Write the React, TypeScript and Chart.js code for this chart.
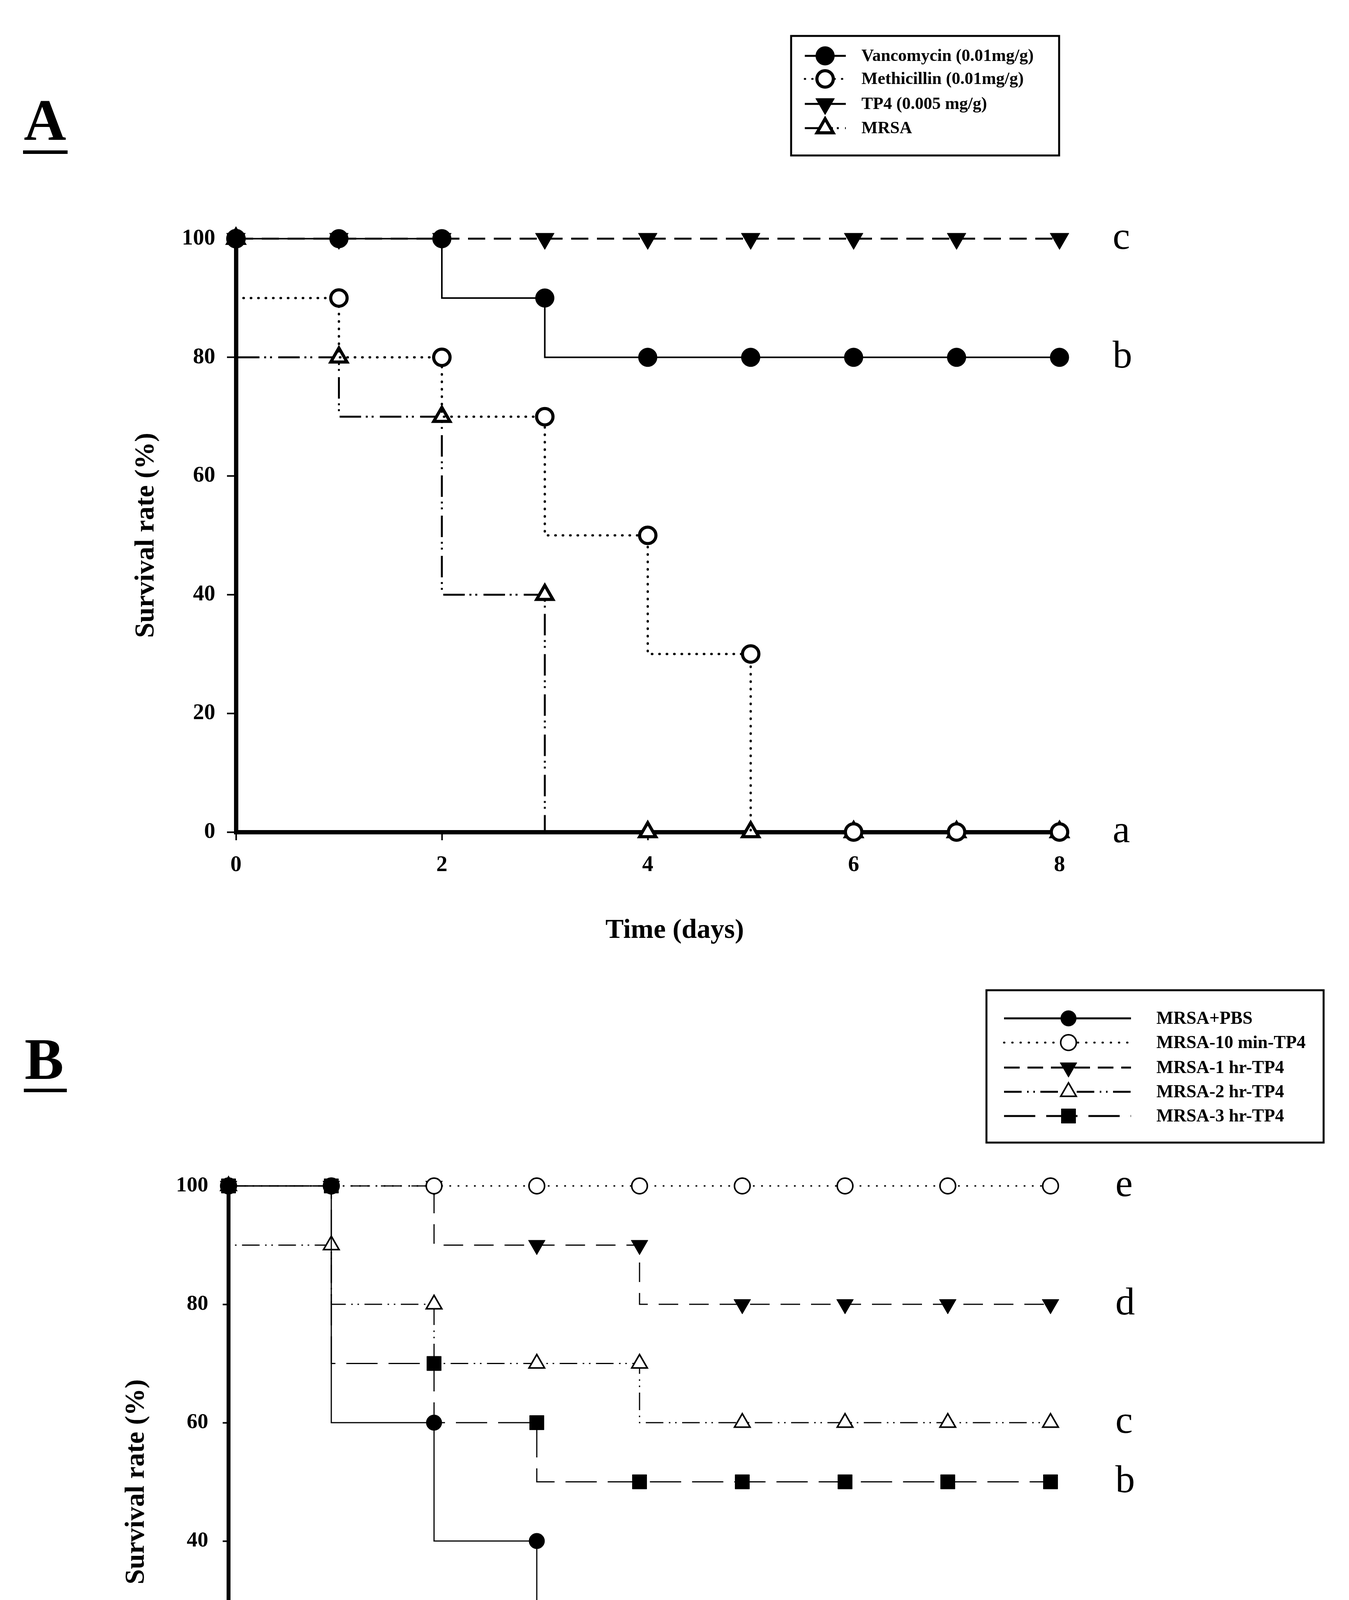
import React, { useEffect, useRef } from 'react';
import { Chart, registerables } from 'chart.js';

Chart.register(...registerables);

const FONT = "'Liberation Serif', 'Times New Roman', serif";

// shared axes
const days = [0, 1, 2, 3, 4, 5, 6, 7, 8];
const xTickValues = [0, 2, 4, 6, 8];
const yTickValues = [0, 20, 40, 60, 80, 100];
const xTitle = 'Time (days)';
const yTitle = 'Survival rate (%)';

// Panel A data
const vancomycinA = [100, 100, 100, 90, 80, 80, 80, 80, 80];
const methicillinA = [100, 90, 80, 70, 50, 30, 0, 0, 0];
const tp4A = [100, 100, 100, 100, 100, 100, 100, 100, 100];
const mrsaA = [100, 80, 70, 40, 0, 0, 0, 0, 0];
const seriesNamesA = ['Vancomycin (0.01mg/g)', 'Methicillin (0.01mg/g)', 'TP4 (0.005 mg/g)', 'MRSA'];
const groupLettersA = ['c', 'b', 'a'];
const groupValuesA = [100, 80, 0];

// Panel B data
const pbsB = [100, 100, 60, 40, 20, 0, 0, 0, 0];
const tp4min10B = [100, 100, 100, 100, 100, 100, 100, 100, 100];
const tp4hr1B = [100, 100, 100, 90, 90, 80, 80, 80, 80];
const tp4hr2B = [100, 90, 80, 70, 70, 60, 60, 60, 60];
const tp4hr3B = [100, 100, 70, 60, 50, 50, 50, 50, 50];
const seriesNamesB = ['MRSA+PBS', 'MRSA-10 min-TP4', 'MRSA-1 hr-TP4', 'MRSA-2 hr-TP4', 'MRSA-3 hr-TP4'];
const groupLettersB = ['e', 'd', 'c', 'b', 'a'];
const groupValuesB = [100, 80, 60, 50, 0];

type Style = {
  dash: number[];
  legendDash: number[];
  width: number;
  cap: CanvasLineCap;
  point: string;
  rotation: number;
  radius: number;
  fill: string;
  pbw: number;
};

const stylesA: Style[] = [
  { dash: [], legendDash: [], width: 4, cap: 'butt', point: 'circle', rotation: 0, radius: 24, fill: '#000', pbw: 1 },
  { dash: [1, 18], legendDash: [1, 18], width: 6, cap: 'round', point: 'circle', rotation: 0, radius: 21, fill: '#fff', pbw: 8 },
  { dash: [44, 22], legendDash: [], width: 5, cap: 'butt', point: 'triangle', rotation: 180, radius: 28, fill: '#000', pbw: 1 },
  { dash: [55, 12, 5, 10, 5, 16], legendDash: [55, 12, 5, 10, 5, 16], width: 5, cap: 'butt', point: 'triangle', rotation: 0, radius: 24, fill: '#fff', pbw: 8 },
];

const stylesB: Style[] = [
  { dash: [], legendDash: [], width: 3, cap: 'butt', point: 'circle', rotation: 0, radius: 20, fill: '#000', pbw: 1 },
  { dash: [1, 20], legendDash: [1, 20], width: 4, cap: 'round', point: 'circle', rotation: 0, radius: 20, fill: '#fff', pbw: 4 },
  { dash: [50, 28], legendDash: [40, 20], width: 3, cap: 'butt', point: 'triangle', rotation: 180, radius: 25, fill: '#000', pbw: 1 },
  { dash: [45, 14, 4, 12, 4, 14], legendDash: [45, 14, 4, 12, 4, 14], width: 3, cap: 'butt', point: 'triangle', rotation: 0, radius: 23, fill: '#fff', pbw: 4 },
  { dash: [80, 28], legendDash: [80, 28], width: 3, cap: 'butt', point: 'rect', rotation: 0, radius: 26, fill: '#000', pbw: 1 },
];

const toPoints = (vals: number[]) => days.map((d, i) => ({ x: d, y: vals[i] }));

const makeDataset = (label: string, vals: number[], s: Style) => ({
  label,
  data: toPoints(vals),
  stepped: 'after' as const,
  borderColor: '#000',
  borderWidth: s.width,
  borderDash: s.dash,
  borderCapStyle: s.cap,
  pointStyle: s.point,
  pointRotation: s.rotation,
  pointRadius: s.radius,
  pointHoverRadius: s.radius,
  pointBackgroundColor: s.fill,
  pointBorderColor: '#000',
  pointBorderWidth: s.pbw,
  fill: false,
  clip: false,
  tension: 0,
});

function drawMarker(ctx: CanvasRenderingContext2D, s: Style, x: number, y: number) {
  ctx.save();
  ctx.setLineDash([]);
  ctx.fillStyle = s.fill;
  ctx.strokeStyle = '#000';
  ctx.lineWidth = s.pbw;
  ctx.beginPath();
  const r = s.radius;
  if (s.point === 'circle') {
    ctx.arc(x, y, r, 0, Math.PI * 2);
  } else if (s.point === 'triangle') {
    let rad = (s.rotation * Math.PI) / 180;
    ctx.moveTo(x + Math.sin(rad) * r, y - Math.cos(rad) * r);
    rad += (2 * Math.PI) / 3;
    ctx.lineTo(x + Math.sin(rad) * r, y - Math.cos(rad) * r);
    rad += (2 * Math.PI) / 3;
    ctx.lineTo(x + Math.sin(rad) * r, y - Math.cos(rad) * r);
    ctx.closePath();
  } else {
    const h = Math.SQRT1_2 * r;
    ctx.rect(x - h, y - h, 2 * h, 2 * h);
  }
  ctx.fill();
  ctx.stroke();
  ctx.restore();
}

type PanelCfg = {
  id: string;
  canvasTop: number;
  canvasHeight: number;
  area: { left: number; right: number; top: number; bottom: number };
  names: string[];
  series: number[][];
  styles: Style[];
  tickLen: { x: number; y: number };
  tickPad: { x: number; y: number };
  tickFont: number;
  tickWidth: number;
  borderWidth: number;
  panelLetter: string;
  panelLetterPos: { x: number; y: number; ulY: number; ulW: number };
  yTitlePos: number;
  xTitlePos: { x: number; y: number };
  letters: string[];
  letterValues: number[];
  letterX: number;
  legend: {
    box: { x1: number; y1: number; x2: number; y2: number };
    rows: number[];
    lineX1: number;
    lineX2: number;
    markerX: number;
    textX: number;
    font: number;
  };
};

const panelA: PanelCfg = {
  id: 'A',
  canvasTop: 0,
  canvasHeight: 2450,
  area: { left: 604, right: 2712, top: 611, bottom: 2130 },
  names: seriesNamesA,
  series: [vancomycinA, methicillinA, tp4A, mrsaA],
  styles: stylesA,
  tickLen: { x: 21, y: 23 },
  tickPad: { x: 30, y: 30 },
  tickFont: 57,
  tickWidth: 4,
  borderWidth: 11,
  panelLetter: 'A',
  panelLetterPos: { x: 61, y: 358, ulY: 385, ulW: 114 },
  yTitlePos: 375,
  xTitlePos: { x: 1727, y: 2383 },
  letters: groupLettersA,
  letterValues: groupValuesA,
  letterX: 2848,
  legend: {
    box: { x1: 2025, y1: 92, x2: 2711, y2: 398 },
    rows: [143, 202, 266, 328],
    lineX1: 2060,
    lineX2: 2165,
    markerX: 2112,
    textX: 2205,
    font: 44,
  },
};

const panelB: PanelCfg = {
  id: 'B',
  canvasTop: 2450,
  canvasHeight: 2378,
  area: { left: 585, right: 2689, top: 586, bottom: 2101 },
  names: seriesNamesB,
  series: [pbsB, tp4min10B, tp4hr1B, tp4hr2B, tp4hr3B],
  styles: stylesB,
  tickLen: { x: 18, y: 15 },
  tickPad: { x: 32, y: 37 },
  tickFont: 55,
  tickWidth: 4,
  borderWidth: 10,
  panelLetter: 'B',
  panelLetterPos: { x: 63, y: 312, ulY: 337, ulW: 110 },
  yTitlePos: 350,
  xTitlePos: { x: 1627, y: 2322 },
  letters: groupLettersB,
  letterValues: groupValuesB,
  letterX: 2855,
  legend: {
    box: { x1: 2525, y1: 85, x2: 3388, y2: 475 },
    rows: [157, 219, 283, 345, 407],
    lineX1: 2570,
    lineX2: 2895,
    markerX: 2735,
    textX: 2960,
    font: 46,
  },
};

function makeOverlay(p: PanelCfg) {
  return {
    id: 'overlay' + p.id,
    afterDraw(chart: any) {
      const ctx: CanvasRenderingContext2D = chart.ctx;
      const ca = chart.chartArea;
      const ys = chart.scales.y;
      ctx.save();
      ctx.fillStyle = '#000';
      ctx.strokeStyle = '#000';

      // panel letter
      ctx.font = `bold 150px ${FONT}`;
      ctx.textAlign = 'left';
      ctx.textBaseline = 'alphabetic';
      ctx.fillText(p.panelLetter, p.panelLetterPos.x, p.panelLetterPos.y);
      ctx.fillRect(p.panelLetterPos.x - 2, p.panelLetterPos.ulY, p.panelLetterPos.ulW, 9);

      // axis titles
      ctx.font = `bold 70px ${FONT}`;
      ctx.textAlign = 'center';
      ctx.textBaseline = 'middle';
      ctx.fillText(xTitle, p.xTitlePos.x, p.xTitlePos.y);
      ctx.save();
      ctx.translate(p.yTitlePos, (ca.top + ca.bottom) / 2);
      ctx.rotate(-Math.PI / 2);
      ctx.fillText(yTitle, 0, 0);
      ctx.restore();

      // group letters
      ctx.font = `100px ${FONT}`;
      ctx.textAlign = 'left';
      ctx.textBaseline = 'middle';
      p.letters.forEach((l, i) => {
        ctx.fillText(l, p.letterX, ys.getPixelForValue(p.letterValues[i]));
      });

      // legend
      const lg = p.legend;
      ctx.lineWidth = 5;
      ctx.setLineDash([]);
      ctx.strokeRect(lg.box.x1, lg.box.y1, lg.box.x2 - lg.box.x1, lg.box.y2 - lg.box.y1);
      ctx.font = `bold ${lg.font}px ${FONT}`;
      ctx.textAlign = 'left';
      ctx.textBaseline = 'middle';
      p.names.forEach((name, i) => {
        const s = p.styles[i];
        const y = lg.rows[i];
        ctx.save();
        ctx.lineWidth = 5;
        ctx.lineCap = s.cap;
        ctx.setLineDash(s.legendDash);
        ctx.beginPath();
        ctx.moveTo(lg.lineX1, y);
        ctx.lineTo(lg.lineX2, y);
        ctx.stroke();
        ctx.restore();
        drawMarker(ctx, s, lg.markerX, y);
        ctx.fillStyle = '#000';
        ctx.fillText(name, lg.textX, y + 2);
      });
      ctx.restore();
    },
  };
}

function makeConfig(p: PanelCfg): any {
  const W = 3453;
  const yAxisW = 250;
  const xAxisH = 250;
  return {
    type: 'line',
    data: {
      datasets: p.names.map((n, i) => makeDataset(n, p.series[i], p.styles[i])),
    },
    options: {
      responsive: false,
      animation: false,
      devicePixelRatio: 1,
      layout: {
        autoPadding: false,
        padding: {
          left: p.area.left - yAxisW,
          right: W - p.area.right,
          top: p.area.top,
          bottom: p.canvasHeight - p.area.bottom - xAxisH,
        },
      },
      plugins: {
        legend: { display: false },
        tooltip: { enabled: false },
        title: { display: false },
      },
      events: [],
      scales: {
        x: {
          type: 'linear',
          min: 0,
          max: 8,
          offset: false,
          afterBuildTicks: (s: any) => {
            s.ticks = xTickValues.map((v) => ({ value: v }));
          },
          afterFit: (s: any) => {
            s.height = xAxisH;
          },
          ticks: {
            autoSkip: false,
            maxRotation: 0,
            padding: p.tickPad.x,
            color: '#000',
            font: { family: FONT, size: p.tickFont, weight: 'bold' },
          },
          grid: {
            display: true,
            drawOnChartArea: false,
            drawTicks: true,
            tickLength: p.tickLen.x,
            tickWidth: p.tickWidth,
            tickColor: '#000',
            color: '#000',
          },
          border: { display: true, width: p.borderWidth, color: '#000' },
          title: { display: false },
        },
        y: {
          type: 'linear',
          min: 0,
          max: 100,
          afterBuildTicks: (s: any) => {
            s.ticks = yTickValues.map((v) => ({ value: v }));
          },
          afterFit: (s: any) => {
            s.width = yAxisW;
          },
          ticks: {
            autoSkip: false,
            padding: p.tickPad.y,
            color: '#000',
            font: { family: FONT, size: p.tickFont, weight: 'bold' },
          },
          grid: {
            display: true,
            drawOnChartArea: false,
            drawTicks: true,
            tickLength: p.tickLen.y,
            tickWidth: p.tickWidth,
            tickColor: '#000',
            color: '#000',
          },
          border: { display: true, width: p.borderWidth, color: '#000' },
          title: { display: false },
        },
      },
    },
    plugins: [makeOverlay(p)],
  };
}

function Panel({ p }: { p: PanelCfg }) {
  const ref = useRef<HTMLCanvasElement | null>(null);
  useEffect(() => {
    if (!ref.current) return;
    const chart = new Chart(ref.current, makeConfig(p));
    return () => chart.destroy();
  }, [p]);
  return (
    <canvas
      ref={ref}
      width={3453}
      height={p.canvasHeight}
      style={{
        position: 'absolute',
        left: 0,
        top: p.canvasTop,
        width: 3453,
        height: p.canvasHeight,
        display: 'block',
      }}
    />
  );
}

export default function App() {
  return (
    <div
      style={{
        position: 'absolute',
        left: 0,
        top: 0,
        width: 3453,
        height: 4828,
        background: '#fff',
        overflow: 'hidden',
      }}
    >
      <Panel p={panelA} />
      <Panel p={panelB} />
    </div>
  );
}
